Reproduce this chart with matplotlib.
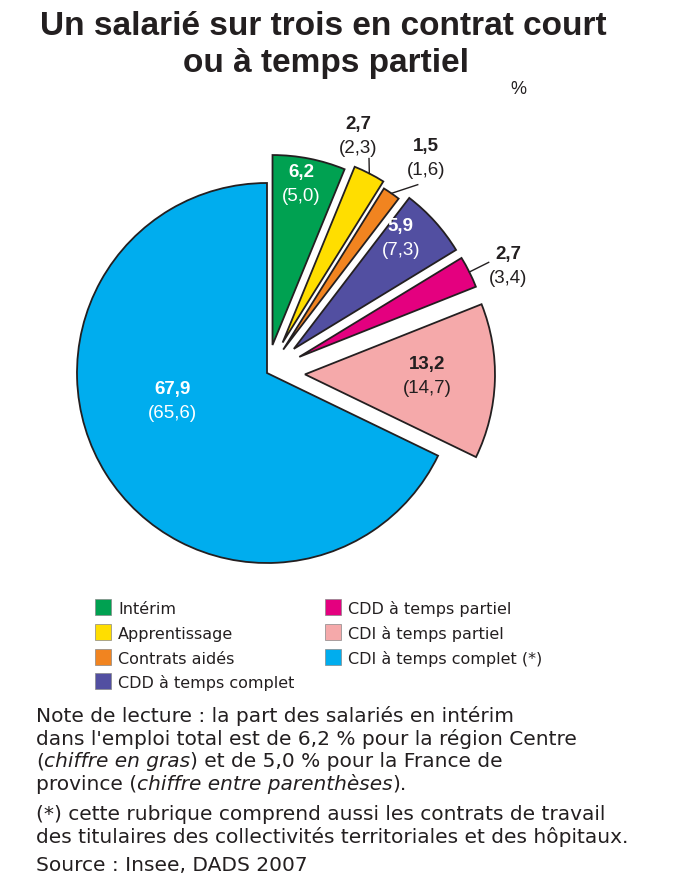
import numpy as np
import matplotlib
matplotlib.use("Agg")
import matplotlib.pyplot as plt
from matplotlib.patches import Rectangle

categories = ["Intérim", "Apprentissage", "Contrats aidés", "CDD à temps complet",
              "CDD à temps partiel", "CDI à temps partiel", "CDI à temps complet (*)"]
centre = [6.2, 2.7, 1.5, 5.9, 2.7, 13.2, 67.9]
province = [5.0, 2.3, 1.6, 7.3, 3.4, 14.7, 65.6]

colors = ["#00A151", "#FFDE00", "#F18420", "#524FA1", "#E4007F", "#F5A9AA", "#00ADEE"]
explode = [0.15, 0.18, 0.15, 0.19, 0.19, 0.20, 0.0]

W, H = 678, 883
fig = plt.figure(figsize=(W / 100, H / 100), dpi=100)
plt.rcParams['font.family'] = ['Liberation Sans', 'DejaVu Sans']
INK = "#231f20"
WIDE = ['DejaVu Sans']

R = 190.0
cx, cy = 267.0, H - 373.0
ax = fig.add_axes([0, 0, 1, 1])

wedges, _ = ax.pie(centre, colors=colors, explode=explode, startangle=90,
                   counterclock=False, radius=1.0,
                   wedgeprops=dict(edgecolor=INK, linewidth=1.3))
ax.set_aspect('auto')
ax.set_xlim(-cx / R, (W - cx) / R)
ax.set_ylim(-cy / R, (H - cy) / R)
ax.axis('off')

def fmt(v):
    return f"{v:.1f}".replace(".", ",")

# label placement: (radius factor, angle offset, text colour)
place = [(0.856, 1, "white"),
         (1.156, 7, INK),
         (1.255, -2, INK),
         (0.81, 4, "white"),
         (1.198, -3, INK),
         (0.642, 1, INK),
         (0.521, -15.5, "white")]
leaders = {1: (1.0, 0, 1.07, 2), 2: (1.0, 0, 1.12, -4.5), 4: (1.0, 0, 1.114, 0)}

for i, w in enumerate(wedges):
    mid = (w.theta1 + w.theta2) / 2
    ccx, ccy = w.center
    f, da, col = place[i]
    a = np.deg2rad(mid + da)
    x = ccx + f * w.r * np.cos(a)
    y = ccy + f * w.r * np.sin(a)
    dy = 12 / R
    ax.text(x, y + dy, fmt(centre[i]), ha='center', va='center', fontsize=13.5,
            fontweight='bold', color=col)
    ax.text(x, y - dy, f"({fmt(province[i])})", ha='center', va='center',
            fontsize=13.5, color=col)
    if i in leaders:
        r1, d1, r2, d2 = leaders[i]
        a1 = np.deg2rad(mid + d1)
        a2 = np.deg2rad(mid + d2)
        ax.plot([ccx + r1 * np.cos(a1), ccx + r2 * np.cos(a2)],
                [ccy + r1 * np.sin(a1), ccy + r2 * np.sin(a2)],
                color=INK, lw=1.0)

# title
title_fam = ['Liberation Sans Narrow', 'Liberation Sans']
fig.text(323 / W, 1 - 35 / H, "Un salarié sur trois en contrat court",
         ha='center', va='baseline', fontsize=24, fontweight='bold',
         family=title_fam, color=INK)
fig.text(326 / W, 1 - 72 / H, "ou à temps partiel",
         ha='center', va='baseline', fontsize=24, fontweight='bold',
         family=title_fam, color=INK)
fig.text(518 / W, 1 - 90 / H, "%", ha='center', va='center', fontsize=13, color=INK)

# legend
rows = [614, 639, 664, 688]
col_x = [95, 325]
for i, name in enumerate(categories):
    c = 0 if i < 4 else 1
    r = i if i < 4 else i - 4
    x0 = col_x[c]
    yb = rows[r]
    fig.add_artist(Rectangle((x0 / W, 1 - (yb + 1) / H), 16 / W, 16 / H,
                             transform=fig.transFigure, facecolor=colors[i],
                             edgecolor="#888888", linewidth=0.5))
    fig.text((x0 + 23) / W, 1 - yb / H, name, ha='left', va='baseline',
             fontsize=11.5, family=WIDE, color=INK)

# notes
note_lines = [
    (722, [("Note de lecture : la part des salariés en intérim", 'normal')]),
    (745, [("dans l'emploi total est de 6,2 % pour la région Centre", 'normal')]),
    (767, [("(", 'normal'), ("chiffre en gras", 'italic'), (") et de 5,0 % pour la France de", 'normal')]),
    (790, [("province (", 'normal'), ("chiffre entre parenthèses", 'italic'), (").", 'normal')]),
    (820, [("(*) cette rubrique comprend aussi les contrats de travail", 'normal')]),
    (843, [("des titulaires des collectivités territoriales et des hôpitaux.", 'normal')]),
    (871, [("Source : Insee, DADS 2007", 'normal')]),
]
fig.canvas.draw()
renderer = fig.canvas.get_renderer()
for yp, parts in note_lines:
    xp = 36.0
    for txt, style in parts:
        t = fig.text(xp / W, 1 - yp / H, txt, ha='left', va='baseline', fontsize=14.5,
                     style=style, family=WIDE, color=INK)
        bb = t.get_window_extent(renderer=renderer)
        xp += bb.width

fig.savefig("out.png", dpi=100)
